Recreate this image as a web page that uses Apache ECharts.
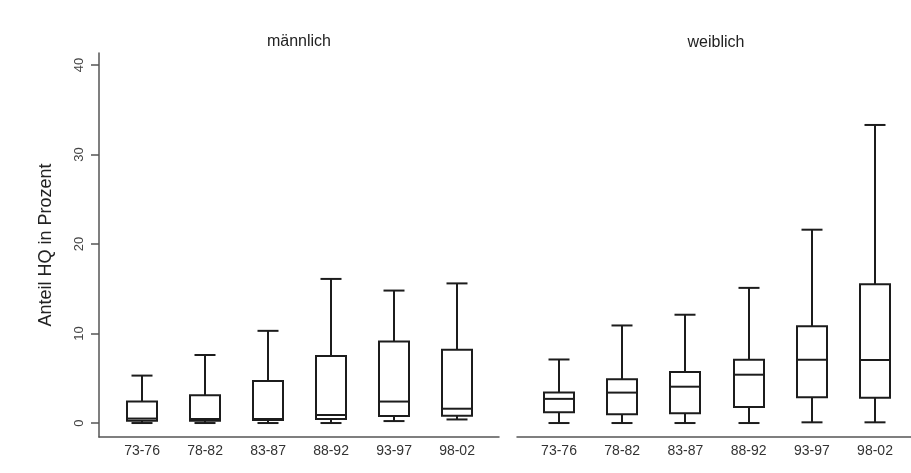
<!DOCTYPE html>
<html>
<head>
<meta charset="utf-8">
<script src="https://cdn.jsdelivr.net/npm/echarts@6/dist/echarts.min.js"></script>
<style>
  html, body { margin: 0; padding: 0; background: #fff; }
  #chart { width: 911px; height: 473px; }
</style>
</head>
<body>
<div id="chart"></div>
<script>
// Share of HQ (percent) by period, split by sex
const periods = ['73-76', '78-82', '83-87', '88-92', '93-97', '98-02'];
const panelTitles = ['männlich', 'weiblich'];
const yTicks = [0, 10, 20, 30, 40];

// Box statistics per period: [lower whisker, Q1, median, Q3, upper whisker]
const maleStats = [
  [0.0, 0.26, 0.5, 2.4, 5.3],
  [0.0, 0.26, 0.45, 3.1, 7.6],
  [0.0, 0.35, 0.45, 4.7, 10.3],
  [0.0, 0.45, 0.9, 7.5, 16.1],
  [0.22, 0.78, 2.4, 9.1, 14.8],
  [0.4, 0.82, 1.6, 8.2, 15.6]
];
const femaleStats = [
  [0.0, 1.2, 2.7, 3.4, 7.1],
  [0.0, 0.97, 3.4, 4.9, 10.9],
  [0.0, 1.08, 4.06, 5.7, 12.1],
  [0.0, 1.8, 5.4, 7.07, 15.1],
  [0.08, 2.87, 7.07, 10.8, 21.6],
  [0.08, 2.83, 7.04, 15.5, 33.3]
];

const FONT = '"Liberation Sans", Arial, Helvetica, sans-serif';
const INK = '#1c1c1c';
const AXIS = '#555';

const BOX_W = 30;
const CAP_W = 21;

function renderBox(params, api) {
  const x = api.value(0);
  const lo = api.coord([x, api.value(1)]);
  const q1 = api.coord([x, api.value(2)]);
  const md = api.coord([x, api.value(3)]);
  const q3 = api.coord([x, api.value(4)]);
  const hi = api.coord([x, api.value(5)]);
  const cx = Math.round(lo[0]);
  const style = { stroke: INK, lineWidth: 2, fill: null };
  const line = (x1, y1, x2, y2) => ({ type: 'line', shape: { x1, y1, x2, y2 }, style });
  return {
    type: 'group',
    children: [
      line(cx, q3[1], cx, hi[1]),
      line(cx - CAP_W / 2, hi[1], cx + CAP_W / 2, hi[1]),
      line(cx, q1[1], cx, lo[1]),
      line(cx - CAP_W / 2, lo[1], cx + CAP_W / 2, lo[1]),
      { type: 'rect', shape: { x: cx - BOX_W / 2, y: q3[1], width: BOX_W, height: q1[1] - q3[1] },
        style: { stroke: INK, lineWidth: 2, fill: '#fff' } },
      line(cx - BOX_W / 2, md[1], cx + BOX_W / 2, md[1])
    ]
  };
}

function toRows(stats) {
  return stats.map((s, i) => [i].concat(s));
}

const catIdx = periods.map((_, i) => i);

function xAxisFor(gridIndex, min, max) {
  return {
    type: 'value', gridIndex, min, max,
    axisLine: { show: true, onZero: false, lineStyle: { color: AXIS, width: 1.5 } },
    axisTick: { show: false },
    splitLine: { show: false },
    axisLabel: {
      customValues: catIdx,
      formatter: v => periods[Math.round(v)],
      color: '#333', fontFamily: FONT, fontSize: 14, margin: 7
    }
  };
}

function yAxisFor(gridIndex, visible) {
  return {
    type: 'value', gridIndex, min: -1.56, max: 41.34,
    show: visible,
    name: visible ? 'Anteil HQ in Prozent' : '',
    nameLocation: 'middle', nameGap: 44, nameRotate: 90,
    nameTextStyle: { fontFamily: FONT, fontSize: 18, color: '#222' },
    axisLine: { show: visible, onZero: false, lineStyle: { color: AXIS, width: 1.5 } },
    axisTick: { show: visible, customValues: yTicks, length: 8, lineStyle: { color: AXIS, width: 1.5 } },
    splitLine: { show: false },
    axisLabel: {
      show: visible, customValues: yTicks, rotate: 90, margin: 13,
      color: '#444', fontFamily: FONT, fontSize: 13
    }
  };
}

const chart = echarts.init(document.getElementById('chart'), null, { renderer: 'canvas' });
chart.setOption({
  backgroundColor: '#fff',
  animation: false,
  graphic: [
    { type: 'text', x: 299, y: 42, style: { text: panelTitles[0], align: 'center', verticalAlign: 'middle', font: '16px ' + FONT, fill: '#222' } },
    { type: 'text', x: 716, y: 43, style: { text: panelTitles[1], align: 'center', verticalAlign: 'middle', font: '16px ' + FONT, fill: '#222' } }
  ],
  grid: [
    { left: 99, width: 400, top: 53, height: 384 },
    { left: 517, width: 394, top: 53, height: 384 }
  ],
  xAxis: [
    xAxisFor(0, -0.683, -0.683 + 400 / 63),
    xAxisFor(1, -0.665, -0.665 + 394 / 63.2)
  ],
  yAxis: [yAxisFor(0, true), yAxisFor(1, false)],
  series: [
    { type: 'custom', xAxisIndex: 0, yAxisIndex: 0, renderItem: renderBox,
      encode: { x: 0, y: [1, 2, 3, 4, 5] }, data: toRows(maleStats) },
    { type: 'custom', xAxisIndex: 1, yAxisIndex: 1, renderItem: renderBox,
      encode: { x: 0, y: [1, 2, 3, 4, 5] }, data: toRows(femaleStats) }
  ]
});
</script>
</body>
</html>
